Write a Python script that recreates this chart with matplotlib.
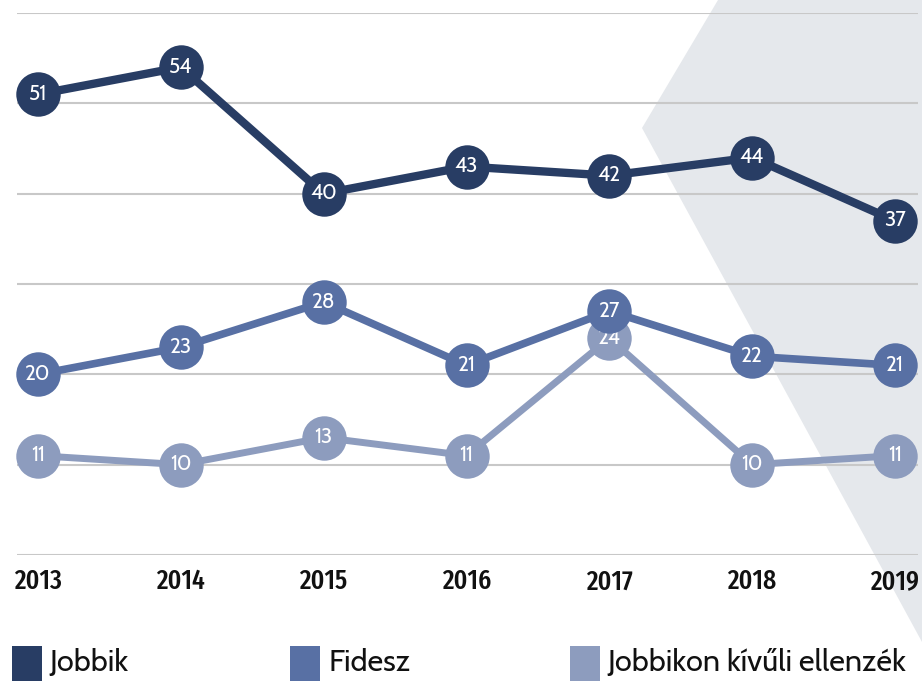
import matplotlib
matplotlib.use("Agg")
import matplotlib.pyplot as plt
from matplotlib.patches import Polygon, Rectangle
from matplotlib import font_manager

years = [2013, 2014, 2015, 2016, 2017, 2018, 2019]
jobbik = [51, 54, 40, 43, 42, 44, 37]
fidesz = [20, 23, 28, 21, 27, 22, 21]
ellenzek = [11, 10, 13, 11, 24, 10, 11]
series_names = ["Jobbik", "Fidesz", "Jobbikon kívűli ellenzék"]
colors = ["#283d64", "#5870a4", "#8d9cbe"]

names = {f.name for f in font_manager.fontManager.ttflist}
def pick(*cands):
    for c in cands:
        if c in names:
            return c
    return "DejaVu Sans"
cond = pick("Fira Sans Extra Condensed", "Saira ExtraCondensed", "PT Sans Narrow", "Cabin Condensed")
base = pick("Cabin", "Lato", "Open Sans")

W, H = 922, 681
fig = plt.figure(figsize=(W / 100, H / 100), dpi=100)

# background gray shape (figure pixel coords)
poly = Polygon([(718 / W, 1.0), (1.0, 1.0), (1.0, 1 - 642 / H), (642 / W, 1 - 128 / H)],
               closed=True, transform=fig.transFigure, facecolor="#e5e8ec",
               edgecolor="none", zorder=-5)
fig.patches.append(poly)

ax = fig.add_axes([17 / W, 1 - 555 / H, (918 - 17) / W, (555 - 13) / H], zorder=1)
ax.patch.set_alpha(0)
ax.set_ylim(0, 60)
spacing = (895 - 38) / 6
ax.set_xlim(2013 - (38 - 17) / spacing, 2019 + (918 - 895) / spacing)
ax.set_yticks(range(0, 61, 10))
ax.yaxis.grid(True, color="#c8c8c8", linewidth=1.5)
ax.set_axisbelow(True)
for s in ax.spines.values():
    s.set_visible(False)
ax.tick_params(axis="y", left=False, labelleft=False)
ax.tick_params(axis="x", bottom=False, pad=6)
ax.set_xticks(years)
ax.set_xticklabels([str(y) for y in years], fontsize=20, fontweight="medium",
                   family=cond, color="#111111")

lws = [6, 5.5, 5]
for vals, c, lw, z in zip([ellenzek, fidesz, jobbik], colors[::-1], lws[::-1], [3, 4, 5]):
    ax.plot(years, vals, color=c, linewidth=lw, marker="o", markersize=32,
            markeredgewidth=0, clip_on=False, zorder=z, solid_capstyle="round")
    for x, v in zip(years, vals):
        ax.text(x, v, str(v), ha="center", va="center", color="white",
                fontsize=15, family=base, zorder=z + 0.5)

# legend
leg_x = [12, 290, 570]
for x0, name, c in zip(leg_x, series_names, colors):
    fig.patches.append(Rectangle((x0 / W, 1 - 681 / H), 30 / W, 35 / H,
                                 transform=fig.transFigure, facecolor=c,
                                 edgecolor="none"))
    fig.text((x0 + 38) / W, 1 - 663 / H, name, ha="left", va="center",
             fontsize=22, family=base, color="#111111")

fig.savefig("out.png", dpi=100)
